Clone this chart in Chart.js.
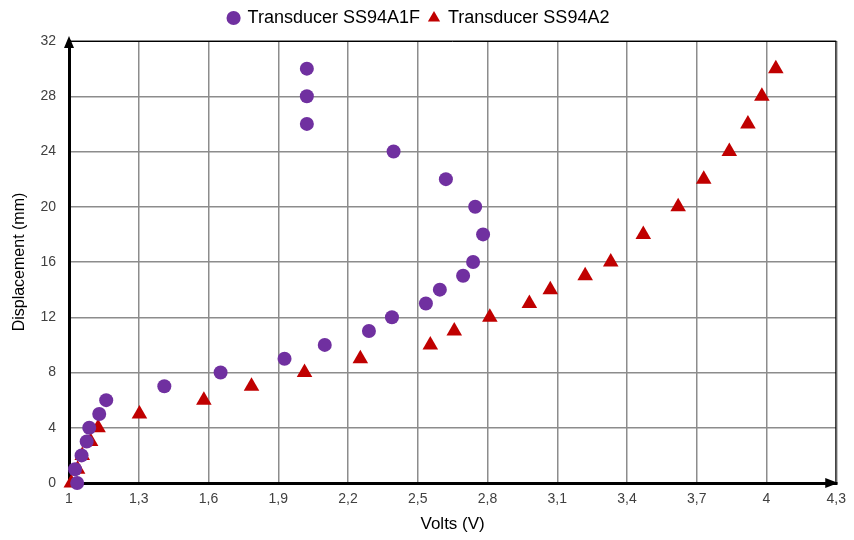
<!DOCTYPE html>
<html>
<head>
<meta charset="utf-8">
<script src="https://cdn.jsdelivr.net/npm/chart.js@4"></script>
<style>
    html, body { margin: 0; padding: 0; background: #fff; }
    #wrap { width: 854px; height: 540px; }
</style>
</head>
<body>
<div id="wrap"><canvas id="myChart" width="854" height="540"></canvas></div>
<script>
// #region data
const
    displacement = [0, 1, 2, 3, 4, 5, 6, 7, 8, 9, 10, 11, 12, 13, 14, 15, 16, 18, 20, 22, 24, 26, 28, 30];

const
    voltsA1F = [1.035, 1.026, 1.054, 1.076, 1.087, 1.13, 1.16, 1.41, 1.652, 1.927, 2.10, 2.29,
        2.389, 2.535, 2.595, 2.695, 2.738, 2.781, 2.747, 2.621, 2.396, 2.023, 2.023, 2.023],
    voltsA2 = [1.01, 1.037, 1.057, 1.093, 1.125, 1.303, 1.58, 1.785, 2.013, 2.253, 2.554, 2.657,
        2.81, 2.98, 3.07, 3.22, 3.33, 3.47, 3.62, 3.73, 3.84, 3.92, 3.98, 4.04];

const
    xTicks = [1, 1.3, 1.6, 1.9, 2.2, 2.5, 2.8, 3.1, 3.4, 3.7, 4, 4.3],
    yTicks = [0, 4, 8, 12, 16, 20, 24, 28, 32];

const
    seriesNames = ['Transducer SS94A1F', 'Transducer SS94A2'],
    axisTitles = ['Volts (V)', 'Displacement (mm)'];
// #endregion data

const
    graph = document.querySelector('#myChart');

function toPoints(xs) {
    return xs.map((x, i) => ({ x: x, y: displacement[i] }));
}

function commaLabel(v) {
    return String(Number(v.toFixed(1))).replace('.', ',');
}

// thin frame on top / right plus arrow heads on the axes
const frameArrows = {
    id: 'frameArrows',
    beforeDatasetsDraw(chart) {
        const ctx = chart.ctx;
        const a = chart.chartArea;
        ctx.save();
        ctx.strokeStyle = '#000';
        ctx.lineWidth = 1;
        ctx.beginPath();
        ctx.moveTo(a.left, a.top + 0.5);
        ctx.lineTo(a.right, a.top + 0.5);
        ctx.moveTo(a.right - 0.5, a.top);
        ctx.lineTo(a.right - 0.5, a.bottom);
        ctx.stroke();

        ctx.fillStyle = '#000';
        ctx.beginPath();
        ctx.moveTo(a.left, a.top - 5);
        ctx.lineTo(a.left - 5, a.top + 7);
        ctx.lineTo(a.left + 5, a.top + 7);
        ctx.closePath();
        ctx.fill();
        ctx.beginPath();
        ctx.moveTo(a.right + 2, a.bottom);
        ctx.lineTo(a.right - 11, a.bottom - 5);
        ctx.lineTo(a.right - 11, a.bottom + 5);
        ctx.closePath();
        ctx.fill();
        ctx.restore();
    }
};

// keep the legend band a fixed height
const legendBand = {
    id: 'legendBand',
    beforeInit(chart) {
        const legend = chart.legend;
        if (!legend) return;
        const fit = legend.fit;
        legend.fit = function () {
            fit.call(this);
            this.height = 41;
        };
    }
};

function graphrender() {
    const ctx = graph.getContext('2d');
    Chart.defaults.font.family = '"Liberation Sans", Arial, sans-serif';

    new Chart(ctx, {
        type: 'scatter',
        data: {
            datasets: [{
                label: seriesNames[0],
                data: toPoints(voltsA1F),
                pointStyle: 'circle',
                pointRadius: 7,
                pointHoverRadius: 7,
                backgroundColor: '#7030A0',
                borderColor: '#7030A0',
                borderWidth: 0,
                clip: false
            }, {
                label: seriesNames[1],
                data: toPoints(voltsA2),
                pointStyle: 'triangle',
                pointRadius: 9,
                pointHoverRadius: 9,
                backgroundColor: '#C00000',
                borderColor: '#C00000',
                borderWidth: 0,
                clip: false
            }]
        },
        options: {
            responsive: false,
            animation: false,
            layout: { padding: { left: 0, right: 16, top: 0, bottom: 0 } },
            plugins: {
                tooltip: { enabled: false },
                legend: {
                    position: 'top',
                    align: 'center',
                    labels: {
                        usePointStyle: true,
                        boxWidth: 10,
                        boxHeight: 10,
                        padding: 9,
                        color: '#000',
                        font: { size: 18 }
                    }
                }
            },
            scales: {
                x: {
                    type: 'linear',
                    min: 1,
                    max: 4.3,
                    afterBuildTicks(scale) {
                        scale.ticks = xTicks.map(v => ({ value: v }));
                    },
                    afterFit(scale) {
                        scale.height = 57;
                    },
                    ticks: {
                        callback: v => commaLabel(v),
                        color: '#404040',
                        padding: 8,
                        maxRotation: 0,
                        autoSkip: false,
                        font: { size: 14 }
                    },
                    grid: { color: '#8c8c8c', lineWidth: 1.5, drawTicks: false },
                    border: { color: '#000', width: 3 },
                    title: {
                        display: true,
                        text: axisTitles[0],
                        color: '#000',
                        font: { size: 17 },
                        padding: { top: 4, bottom: 5 }
                    }
                },
                y: {
                    type: 'linear',
                    min: 0,
                    max: 32,
                    afterBuildTicks(scale) {
                        scale.ticks = yTicks.map(v => ({ value: v }));
                    },
                    afterFit(scale) {
                        scale.width = 69;
                    },
                    ticks: {
                        color: '#404040',
                        padding: 13,
                        font: { size: 14 }
                    },
                    grid: { color: '#8c8c8c', lineWidth: 1.5, drawTicks: false },
                    border: { color: '#000', width: 3 },
                    title: {
                        display: true,
                        text: axisTitles[1],
                        color: '#000',
                        font: { size: 16 },
                        padding: { top: 10, bottom: 0 }
                    }
                }
            }
        },
        plugins: [frameArrows, legendBand]
    });
}

graphrender();
</script>
</body>
</html>
